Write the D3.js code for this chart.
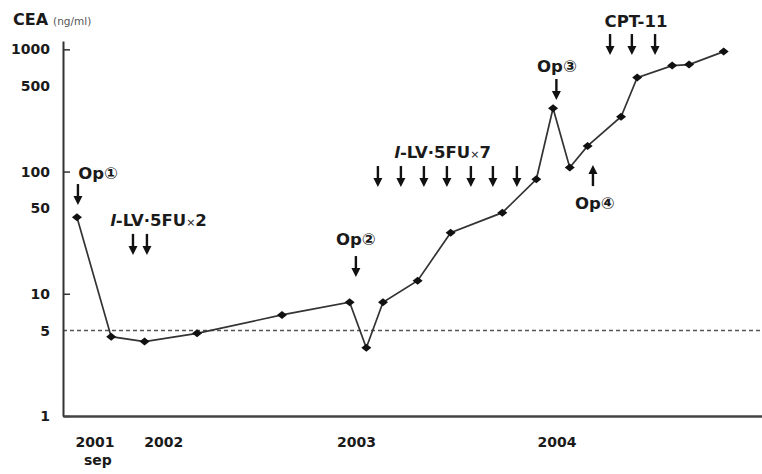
<!DOCTYPE html>
<html>
<head>
<meta charset="utf-8">
<script src="https://cdn.jsdelivr.net/npm/d3@7"></script>
<style>
body { margin: 0; background: #fff; }
svg text { font-family: "DejaVu Sans", sans-serif; fill: #1a1a1a; }
</style>
</head>
<body>
<div id="chart"></div>
<script>
// CEA measurements (time as decimal year, value in ng/ml)
const times = [2001.561, 2001.735, 2001.905, 2002.172, 2002.604, 2002.948, 2003.033, 2003.118, 2003.294, 2003.462,
               2003.725, 2003.898, 2003.983, 2004.068, 2004.159, 2004.329, 2004.411, 2004.589, 2004.675, 2004.851];
const cea = [42.3, 4.46, 4.06, 4.75, 6.71, 8.52, 3.62, 8.52, 12.8, 31.6,
             46.1, 86.5, 330, 108, 162, 281, 587, 736, 750, 958];

const yTicks = [1, 5, 10, 50, 100, 500, 1000];
const yTickMarks = [1, 10, 100, 1000];
const xTickValues = [2001.65, 2002, 2002.98, 2004];
const xTickLabels = ["2001", "2002", "2003", "2004"];
const cutoff = 5;

// treatment arrows: time, level of the arrow tip, direction
const arrowTimes = [2001.566, 2001.846, 2001.917, 2002.98,
                    2003.092, 2003.209, 2003.326, 2003.443, 2003.565, 2003.677, 2003.799,
                    2004.0, 2004.273, 2004.384, 2004.502, 2004.186];
const arrowTips = [53.2, 20.8, 20.8, 13.7,
                   74.7, 74.7, 74.7, 74.7, 74.7, 74.7, 74.7,
                   385, 898, 898, 898, 113];
const arrowDirs = ["down", "down", "down", "down",
                   "down", "down", "down", "down", "down", "down", "down",
                   "down", "down", "down", "down", "up"];

// annotation texts: centre time and baseline level
const labelTexts = ["Op①", "l-LV·5FU×2", "Op②", "l-LV·5FU×7", "Op③", "CPT-11", "Op④"];
const labelTimes = [2001.669, 2001.976, 2002.98, 2003.421, 2004.003, 2004.405, 2004.196];
const labelLevels = [86.9, 35.8, 25.1, 129, 652, 1522, 49.4];

const width = 762, height = 474;

const svg = d3.select("#chart").append("svg")
    .attr("width", width)
    .attr("height", height);

const x = d3.scaleLinear().domain([2001.49, 2005.046]).range([63, 762]);
const y = d3.scaleLog().domain([1, 1170]).range([416, 41]);

// dashed cut-off line
svg.append("line")
    .attr("x1", x.range()[0]).attr("x2", x.range()[1])
    .attr("y1", y(cutoff)).attr("y2", y(cutoff))
    .attr("stroke", "#555")
    .attr("stroke-width", 1.5)
    .attr("stroke-dasharray", "4,3");

// y axis
const yAxis = svg.append("g")
    .attr("transform", `translate(${x.range()[0]},0)`)
    .call(d3.axisLeft(y).tickValues(yTicks).tickFormat(d3.format("d"))
        .tickSize(-7).tickSizeOuter(0).tickPadding(13));
yAxis.select(".domain").attr("stroke", "#333").attr("stroke-width", 2);
yAxis.selectAll(".tick line")
    .attr("stroke", "#333").attr("stroke-width", 1.5)
    .attr("display", d => yTickMarks.includes(d) ? null : "none");
yAxis.selectAll(".tick text")
    .attr("font-family", "DejaVu Sans")
    .attr("font-size", 14).attr("font-weight", "bold").attr("fill", "#1a1a1a");

// x axis
const xAxis = svg.append("g")
    .attr("transform", `translate(0,${y.range()[0]})`)
    .call(d3.axisBottom(x).tickValues(xTickValues).tickFormat((d, i) => xTickLabels[i])
        .tickSize(0).tickSizeOuter(0).tickPadding(21));
xAxis.select(".domain").attr("stroke", "#444").attr("stroke-width", 2.5);
xAxis.selectAll(".tick text")
    .attr("font-family", "DejaVu Sans")
    .attr("font-size", 14).attr("font-weight", "bold").attr("fill", "#1a1a1a");
xAxis.selectAll(".tick").filter((d, i) => i === 0)
    .append("text")
    .attr("x", 3).attr("y", 49)
    .attr("text-anchor", "middle")
    .attr("font-family", "DejaVu Sans")
    .attr("font-size", 14).attr("font-weight", "bold").attr("fill", "#1a1a1a")
    .text("sep");

// axis title
const title = svg.append("text").attr("x", 13).attr("y", 25);
title.append("tspan").attr("font-size", 16).attr("font-weight", "bold").text("CEA");
title.append("tspan").attr("font-size", 10.5).attr("fill", "#555").attr("dx", 5).text("(ng/ml)");

// data line and markers
const pts = times.map((t, i) => [t, cea[i]]);
svg.append("path")
    .datum(pts)
    .attr("fill", "none")
    .attr("stroke", "#333")
    .attr("stroke-width", 1.7)
    .attr("d", d3.line().x(d => x(d[0])).y(d => y(d[1])));

svg.append("g").selectAll("path")
    .data(pts)
    .enter().append("path")
    .attr("transform", d => `translate(${x(d[0])},${y(d[1])})`)
    .attr("d", "M-5,0L0,-4L5,0L0,4Z")
    .attr("fill", "#111");

// arrows
const arrowLen = 21, headLen = 9, headHalf = 4.5;
const arrows = svg.append("g").selectAll("g")
    .data(arrowTimes.map((t, i) => ({ t: t, tip: arrowTips[i], dir: arrowDirs[i] })))
    .enter().append("g")
    .attr("transform", d => `translate(${x(d.t)},${y(d.tip)})`);
arrows.append("line")
    .attr("x1", 0).attr("x2", 0)
    .attr("y1", d => d.dir === "down" ? -arrowLen : arrowLen)
    .attr("y2", d => d.dir === "down" ? -headLen + 1 : headLen - 1)
    .attr("stroke", "#111").attr("stroke-width", 2.4);
arrows.append("path")
    .attr("d", d => {
        const s = d.dir === "down" ? -1 : 1;
        return `M${-headHalf},${s * headLen}L${headHalf},${s * headLen}L0,0Z`;
    })
    .attr("fill", "#111");

// annotation texts
svg.append("g").selectAll("text")
    .data(labelTexts.map((s, i) => ({ s: s, t: labelTimes[i], v: labelLevels[i] })))
    .enter().append("text")
    .attr("x", d => x(d.t))
    .attr("y", d => y(d.v))
    .attr("text-anchor", "middle")
    .attr("font-size", 16.5)
    .attr("font-weight", "bold")
    .each(function(d) {
        const el = d3.select(this);
        let rest = d.s;
        if (rest.startsWith("l-")) {
            el.append("tspan").attr("font-style", "italic").text("l");
            rest = rest.slice(1);
        }
        const parts = rest.split("×");
        el.append("tspan").text(parts[0]);
        if (parts.length > 1) {
            el.append("tspan").attr("font-size", 11).attr("font-weight", "normal").text("×");
            el.append("tspan").text(parts[1]);
        }
    });
</script>
</body>
</html>
